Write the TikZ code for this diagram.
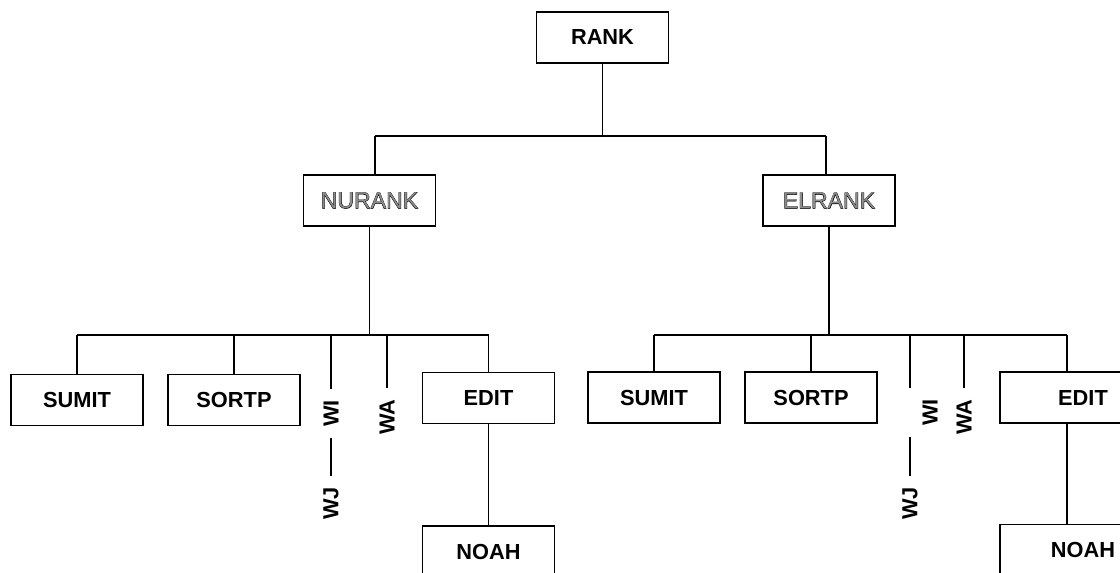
\documentclass[tikz,border=0pt]{standalone}
\usepackage{fontspec}
\setmainfont{Liberation Sans}
\usetikzlibrary{positioning}
% hollow lettering: a stroked copy under a pale fill
\newcommand\hollow[1]{\makebox[0pt][l]{\addfontfeature{FakeBold=2.5}\color{black}#1}\textcolor{black!45}{#1}}
\tikzset{
	x=0.025cm, y=-0.025cm, % one unit is one pixel, y runs downwards
	every node/.style={font=\fontsize{15.5}{18}\selectfont\bfseries}, % bold labels everywhere
	box/.style={draw, line width=0.9pt, minimum width=3.3cm, minimum height=1.275cm, inner sep=0pt}, % routine boxes
	wide box/.style={box, minimum width=4.15cm}, % boxes running off the right edge
	thin text/.style={font=\fontsize{16.4}{19}\selectfont\mdseries}, % the two middle routines
	tag/.style={rotate=90, inner xsep=0.28cm, inner ysep=0pt}, % upright names without a box
	link/.style={line width=0.9pt}, % tree lines
}

\begin{document}
\begin{tikzpicture}
	\clip (0,0) rectangle (1120,573);
	\node[box] (rank) at (602.5,37.5) {RANK};
	\node[box, thin text] (nurank) at (369.5,200.5) {\hollow{NURANK}};
	\node[box, thin text] (elrank) at (829,200.5) {\hollow{ELRANK}};
	% left subtree
	\node[box] (sumit1) at (77,400) {SUMIT};
	\node[box] (sortp1) at (234,400) {SORTP};
	\node[tag] (wi1) at (331,413.5) {WI};
	\node[tag] (wj1) at (331,503.5) {WJ};
	\node[tag] (wa1) at (387,417) {WA};
	\node[box] (edit1) at (488.5,398) {EDIT};
	\node[box] (noah1) at (488.5,551.5) {NOAH};
	% right subtree
	\node[box] (sumit2) at (654,397.5) {SUMIT};
	\node[box] (sortp2) at (811,397.5) {SORTP};
	\node[tag] (wi2) at (930,412.5) {WI};
	\node[tag] (wj2) at (910,503.5) {WJ};
	\node[tag] (wa2) at (964,417) {WA};
	\node[wide box] (edit2) at (1083,397.5) {EDIT};
	\node[wide box] (noah2) at (1083,550) {NOAH};
	% bus lines
	\coordinate (bus0l) at (375,136);
	\coordinate (bus0r) at (826,136);
	\coordinate (bus1l) at (77,335);
	\coordinate (bus1r) at (489,335);
	\coordinate (bus2l) at (654,335);
	\coordinate (bus2r) at (1067,335);

	\draw[link] (rank.south) -- (rank.south |- bus0l);
	\draw[link] (bus0l) -- (bus0r);
	\draw[link] (bus0l) -- (bus0l |- nurank.north);
	\draw[link] (bus0r) -- (bus0r |- elrank.north);

	\draw[link] (nurank.south) -- (nurank.south |- bus1l);
	\draw[link] (bus1l) -- (bus1r);
	\foreach \n in {sumit1, sortp1, edit1}
		\draw[link] (\n.north) -- (\n.north |- bus1l);
	\draw[link] (wj1 |- bus1l) -- (wj1 |- wi1.east);
	\draw[link] (wj1 |- wi1.west) -- (wj1.east);
	\draw[link] (wa1 |- bus1l) -- (wa1.east);
	\draw[link] (edit1.south) -- (noah1.north);

	\draw[link] (elrank.south) -- (elrank.south |- bus2l);
	\draw[link] (bus2l) -- (bus2r);
	\foreach \n in {sumit2, sortp2}
		\draw[link] (\n.north) -- (\n.north |- bus2l);
	\draw[link] (bus2r) -- (bus2r |- edit2.north);
	\draw[link] (wj2 |- bus2l) -- (wj2 |- wi2.east);
	\draw[link] (wj2 |- wi2.west) -- (wj2.east);
	\draw[link] (wa2 |- bus2l) -- (wa2.east);
	\draw[link] (bus2r |- edit2.south) -- (bus2r |- noah2.north);
\end{tikzpicture}
\end{document}
